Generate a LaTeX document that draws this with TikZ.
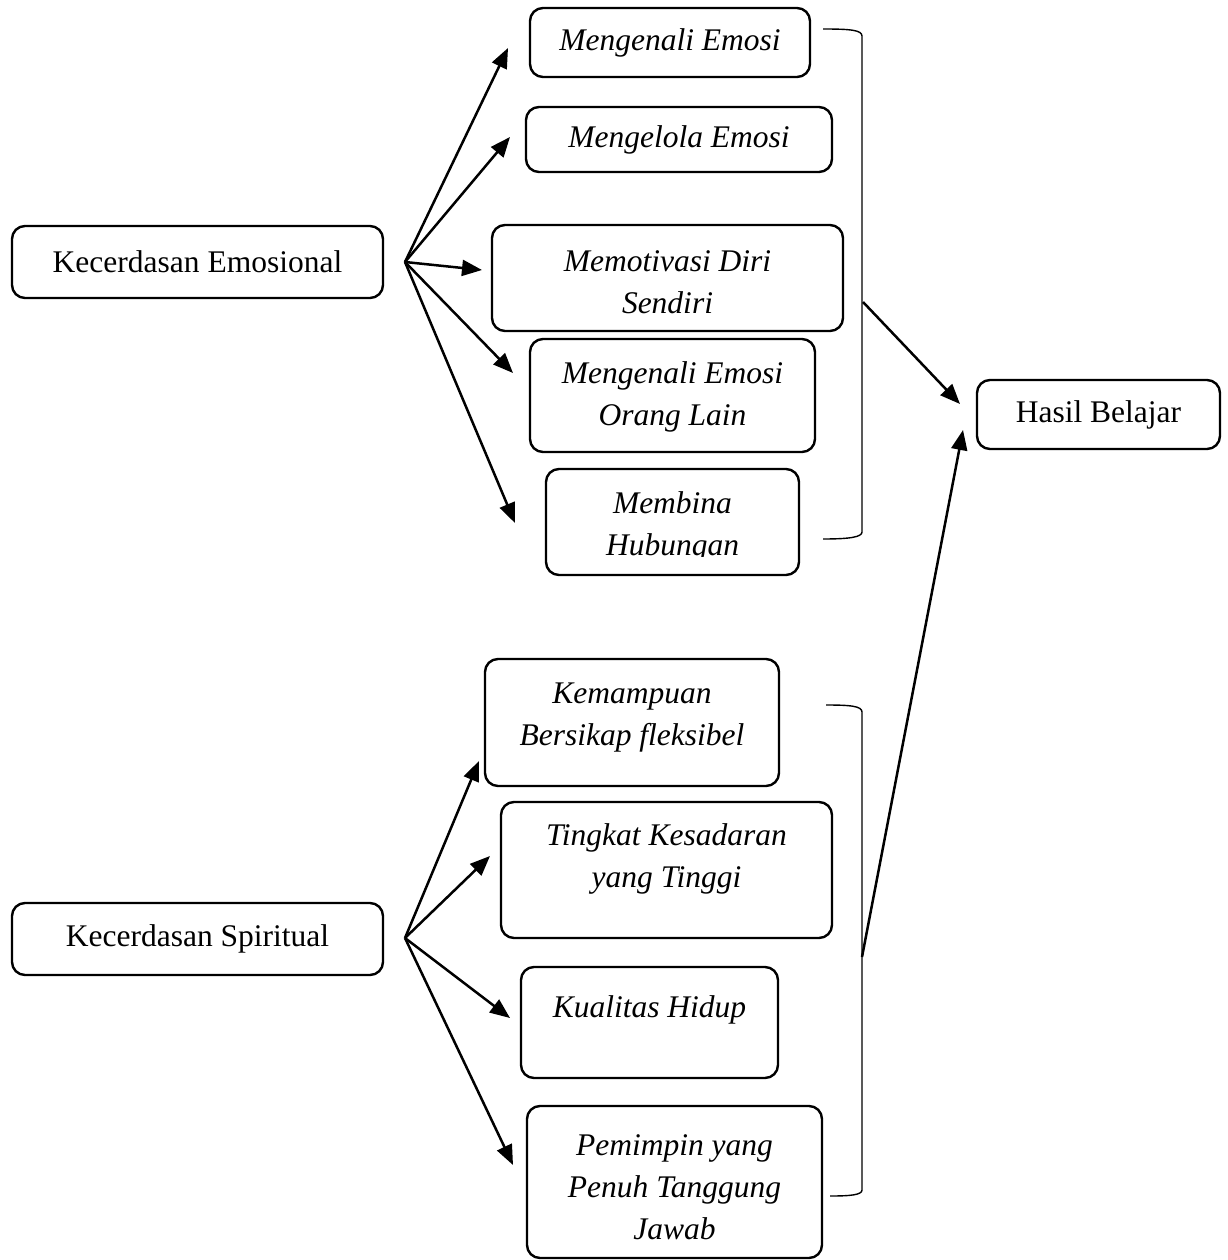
\documentclass[tikz,border=0pt]{standalone}
\usepackage{fontspec}
\setmainfont{Liberation Serif}
\usetikzlibrary{arrows.meta}
\tikzset{
  box/.style={draw, line width=2.4pt, rounded corners=13pt, inner sep=0pt},
  txt/.style={align=center, inner sep=0pt, font=\fontsize{31.5}{42}\selectfont},
  itxt/.style={txt, font=\fontsize{31.5}{42}\selectfont\itshape},
  arr/.style={line width=2.5pt, -{Triangle[length=20pt,width=16pt]}},
  brk/.style={line width=1.4pt}
}
\begin{document}
\begin{tikzpicture}[x=1pt,y=-1pt]
\useasboundingbox (0,0) rectangle (1227,1260);
% main boxes
\node[box, minimum width=371pt, minimum height=72pt] (ke) at (197.5,262) {};
\node[txt] (ke-t) at (197.5,262) {Kecerdasan Emosional};
\node[box, minimum width=371pt, minimum height=72pt] (ks) at (197.5,939) {};
\node[txt] (ks-t) at (197.5,939) {Kecerdasan Spiritual};
\node[box, minimum width=243pt, minimum height=69pt] (hb) at (1098.5,414.5) {};
\node[txt] (hb-t) at (1098.5,414.5) {Hasil Belajar};
% emotional boxes
\node[box, minimum width=280pt, minimum height=69pt] (e1) at (670,42.5) {};
\node[itxt] (e1-t) at (670,43) {Mengenali Emosi};
\node[box, minimum width=306pt, minimum height=65pt] (e2) at (679,139.5) {};
\node[itxt] (e2-t) at (679,140) {Mengelola Emosi};
\node[box, minimum width=351pt, minimum height=106pt] (e3) at (667.5,278) {};
\node[itxt] (e3-t) at (667.5,282) {Memotivasi Diri\\Sendiri};
\node[box, minimum width=285pt, minimum height=113pt] (e4) at (672.5,395.5) {};
\node[itxt] (e4-t) at (672.5,397) {Mengenali Emosi\\Orang Lain};
\node[box, minimum width=253pt, minimum height=106pt] (e5) at (672.5,522) {};
\begin{scope}
\clip (546,469) rectangle (799,556);
\node[itxt] (e5-t) at (672.5,527) {Membina\\Hubungan};
\end{scope}
% spiritual boxes
\node[box, minimum width=294pt, minimum height=127pt] (s1) at (632,722.5) {};
\node[itxt] (s1-t) at (632,717.5) {Kemampuan\\Bersikap fleksibel};
\node[box, minimum width=331pt, minimum height=136pt] (s2) at (666.5,870) {};
\node[itxt] (s2-t) at (666.5,859) {Tingkat Kesadaran\\yang Tinggi};
\node[box, minimum width=257pt, minimum height=111pt] (s3) at (649.5,1022.5) {};
\node[itxt] (s3-t) at (649.5,1010) {Kualitas Hidup};
\node[box, minimum width=295pt, minimum height=152pt] (s4) at (674.5,1182) {};
\node[itxt] (s4-t) at (674.5,1187.5) {Pemimpin yang\\Penuh Tanggung\\Jawab};
% arrow origins and tips
\coordinate (oe) at (405,262);
\coordinate (os) at (405,938);
\coordinate (te1) at (508,48);
\coordinate (te2) at (510,137);
\coordinate (te3) at (482,270);
\coordinate (te4) at (513,373);
\coordinate (te5) at (515,523);
\coordinate (ts1) at (479,761);
\coordinate (ts2) at (490,856);
\coordinate (ts3) at (510,1018);
\coordinate (ts4) at (513,1165);
\foreach \t in {te1,te2,te3,te4,te5} \draw[arr] (oe) -- (\t);
\foreach \t in {ts1,ts2,ts3,ts4} \draw[arr] (os) -- (\t);
% brackets
\coordinate (bu1) at (823,29);
\coordinate (bu2) at (823,539);
\coordinate (bl1) at (826,705);
\coordinate (bl2) at (830,1196);
\draw[brk] (bu1) .. controls (850,29) and (862,30) .. (862,36) -- (862,532) .. controls (862,537) and (850,539) .. (bu2);
\draw[brk] (bl1) .. controls (850,705) and (862,706) .. (862,712) -- (862,1190) .. controls (862,1195) and (850,1196) .. (bl2);
% bracket arrows to Hasil Belajar
\coordinate (bu) at (863,302);
\coordinate (bl) at (862,957);
\coordinate (hu) at (960,404);
\coordinate (hl) at (963,430);
\draw[arr] (bu) -- (hu);
\draw[arr] (bl) -- (hl);
\end{tikzpicture}
\end{document}
